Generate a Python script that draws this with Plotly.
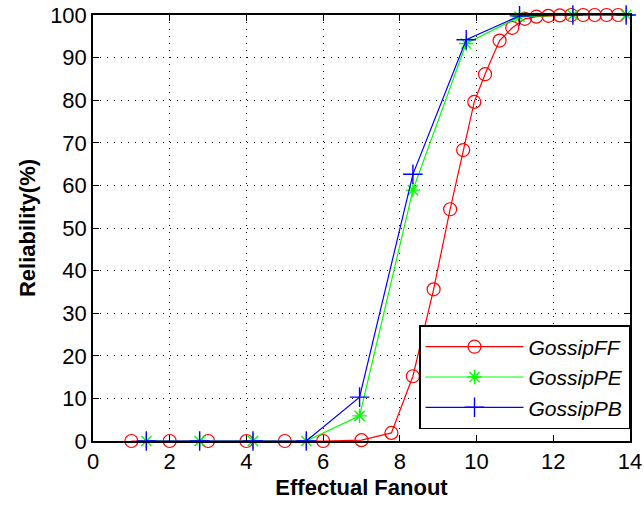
import plotly.graph_objects as go

# Data
ff_x = [1, 2, 3, 4, 5, 6, 7, 7.78, 8.34, 8.88, 9.31, 9.65, 9.94, 10.22, 10.6, 10.93,
        11.26, 11.56, 11.87, 12.17, 12.47, 12.78, 13.08, 13.39, 13.69]
ff_y = [0, 0, 0, 0, 0, 0, 0.2, 1.9, 15.2, 35.6, 54.4, 68.3, 79.6, 86.1, 94.0, 97.0,
        99.1, 99.6, 99.8, 99.9, 100, 100, 100, 100, 100]

pe_x = [1.39, 2.78, 4.17, 5.56, 6.95, 8.34, 9.73, 11.12, 12.51, 13.9]
pe_y = [0, 0, 0, 0, 5.9, 58.9, 93.3, 99.6, 100, 100]

pb_x = [1.39, 2.78, 4.17, 5.56, 6.95, 8.34, 9.73, 11.12, 12.51, 13.9]
pb_y = [0, 0, 0, 0, 10.3, 62.6, 94.2, 99.8, 100, 100]

x_ticks = [0, 2, 4, 6, 8, 10, 12, 14]
y_ticks = [0, 10, 20, 30, 40, 50, 60, 70, 80, 90, 100]

FONT = "Liberation Sans, Arial, sans-serif"

fig = go.Figure()
fig.add_trace(go.Scatter(
    x=ff_x, y=ff_y, mode="lines+markers", name="<i>GossipFF</i>",
    line=dict(color="#ff0000", width=1.2),
    marker=dict(symbol="circle-open", size=13, color="#ff0000", line=dict(width=1.2)),
    cliponaxis=False))
fig.add_trace(go.Scatter(
    x=pe_x, y=pe_y, mode="lines+markers", name="<i>GossipPE</i>",
    line=dict(color="#00ff00", width=1.2),
    marker=dict(symbol="asterisk-open", size=12, color="#00ff00", line=dict(width=1.4, color="#00ff00")),
    cliponaxis=False))
fig.add_trace(go.Scatter(
    x=pb_x, y=pb_y, mode="lines+markers", name="<i>GossipPB</i>",
    line=dict(color="#0000ff", width=1.2),
    marker=dict(symbol="cross-thin-open", size=14, color="#0000ff", line=dict(width=1.4, color="#0000ff")),
    cliponaxis=False))

axis_common = dict(
    showline=True, linecolor="black", linewidth=1.5, mirror="ticks",
    ticks="inside", ticklen=6, tickwidth=1, tickcolor="black",
    showgrid=True, gridcolor="black", gridwidth=1, griddash="1px,6px",
    zeroline=False, tickfont=dict(family=FONT, size=22, color="black"),
    automargin=False,
)

fig.update_xaxes(range=[0, 14], tickvals=x_ticks,
                 title=dict(text="<b>Effectual Fanout</b>", font=dict(family=FONT, size=22, color="black"), standoff=6),
                 **axis_common)
fig.update_yaxes(range=[0, 100], tickvals=y_ticks,
                 title=dict(text="<b>Reliability(%)</b>", font=dict(family=FONT, size=22, color="black"), standoff=8),
                 **axis_common)

fig.update_layout(
    width=644, height=506,
    margin=dict(l=93, r=14, t=15, b=65),
    paper_bgcolor="white", plot_bgcolor="white",
    font=dict(family=FONT, color="black"),
    legend=dict(x=1, y=0.028, xanchor="right", yanchor="bottom",
                bordercolor="black", borderwidth=1.5, bgcolor="white",
                font=dict(family=FONT, size=21, color="black"),
                itemwidth=98, tracegroupgap=0),
)

fig.write_html("out.html")
